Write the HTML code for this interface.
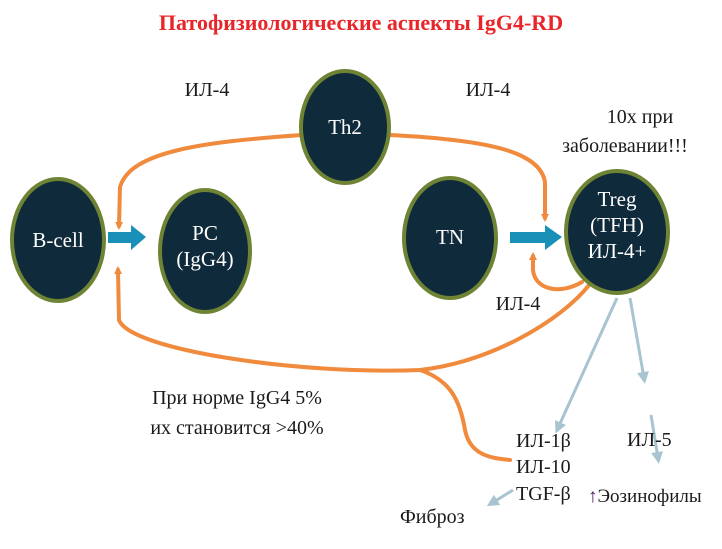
<!DOCTYPE html>
<html><head><meta charset="utf-8"><style>
body{margin:0;background:#fff;width:722px;height:549px;overflow:hidden}
svg{display:block}
text{font-family:"Liberation Serif","DejaVu Serif",serif;fill:#1a1a1a}
.w{fill:#fff}
</style></head><body>
<svg width="722" height="549" viewBox="0 0 722 549">
<defs>
<marker id="oa" markerWidth="8" markerHeight="8" refX="4" refY="4" orient="auto" markerUnits="userSpaceOnUse"><path d="M0,0 L8,4 L0,8 z" fill="#f08a3c"/></marker>
<marker id="ga" markerWidth="12" markerHeight="12" refX="6" refY="6" orient="auto" markerUnits="userSpaceOnUse"><path d="M0,0 L12,6 L0,12 z" fill="#a8c4d0"/></marker>
</defs>
<text x="361" y="30" text-anchor="middle" font-size="22" font-weight="bold" style="fill:#e8262a">Патофизиологические аспекты IgG4-RD</text>
<g fill="none" stroke-width="4" stroke-linecap="round">
<path d="M302,135 C200,142 130,152 120,187 L119,226" stroke="#f08a3c" marker-end="url(#oa)"/>
<path d="M390,135 C490,140 540,152 545,182 L545,218" stroke="#f08a3c" marker-end="url(#oa)"/>
<path d="M590,284 C560,322 490,362 420,370 C300,375 130,350 119,320 L118,270" stroke="#f08a3c" marker-end="url(#oa)"/>
<path d="M420,370 C450,380 460,400 465,430 C470,455 490,458 510,460" stroke="#f08a3c"/>
<path d="M582,282 C560,295 535,290 533,270 L533,256" stroke="#f08a3c" marker-end="url(#oa)"/>
</g>
<g stroke="#a8c4d0" stroke-width="3" fill="none">
<line x1="617" y1="298" x2="558" y2="428" marker-end="url(#ga)"/>
<line x1="630" y1="298" x2="644" y2="378" marker-end="url(#ga)"/>
<line x1="651" y1="415" x2="658" y2="458" marker-end="url(#ga)"/>
<line x1="513" y1="490" x2="492" y2="503" marker-end="url(#ga)"/>
</g>
<g fill="#1890b8">
<rect x="108" y="232" width="24" height="11"/><path d="M131,225 L146,237 L131,250 z"/>
<rect x="510" y="232" width="36" height="11"/><path d="M545,225 L562,237 L545,250 z"/>
</g>
<g fill="#0f2a3a" stroke="#6e8434" stroke-width="4">
<ellipse cx="58" cy="240" rx="46" ry="61"/>
<ellipse cx="205" cy="251" rx="45" ry="61"/>
<ellipse cx="345" cy="127" rx="44" ry="56"/>
<ellipse cx="450" cy="238" rx="46" ry="60"/>
<ellipse cx="617" cy="232" rx="51" ry="61"/>
</g>
<g font-size="21" text-anchor="middle">
<text class="w" x="58" y="247">B-cell</text>
<text class="w" x="205" y="240">PC</text>
<text class="w" x="205" y="266">(IgG4)</text>
<text class="w" x="345" y="134">Th2</text>
<text class="w" x="450" y="244">TN</text>
<text class="w" x="617" y="206">Treg</text>
<text class="w" x="617" y="232">(TFH)</text>
<text class="w" x="617" y="258">ИЛ-4+</text>
</g>
<g font-size="20">
<text x="207" y="96" text-anchor="middle">ИЛ-4</text>
<text x="488" y="96" text-anchor="middle">ИЛ-4</text>
<text x="640" y="123" text-anchor="middle">10х при</text>
<text x="625" y="152" text-anchor="middle">заболевании!!!</text>
<text x="518" y="310" text-anchor="middle">ИЛ-4</text>
<text x="237" y="404" text-anchor="middle">При норме IgG4 5%</text>
<text x="237" y="434" text-anchor="middle">их становится &gt;40%</text>
<text x="516" y="447">ИЛ-1β</text>
<text x="516" y="473">ИЛ-10</text>
<text x="516" y="500">TGF-β</text>
<text x="627" y="446">ИЛ-5</text>
<text x="588" y="502" font-size="19"><tspan style="fill:#4a1060">↑</tspan>Эозинофилы</text>
<text x="400" y="523">Фиброз</text>
</g>
</svg>
</body></html>
